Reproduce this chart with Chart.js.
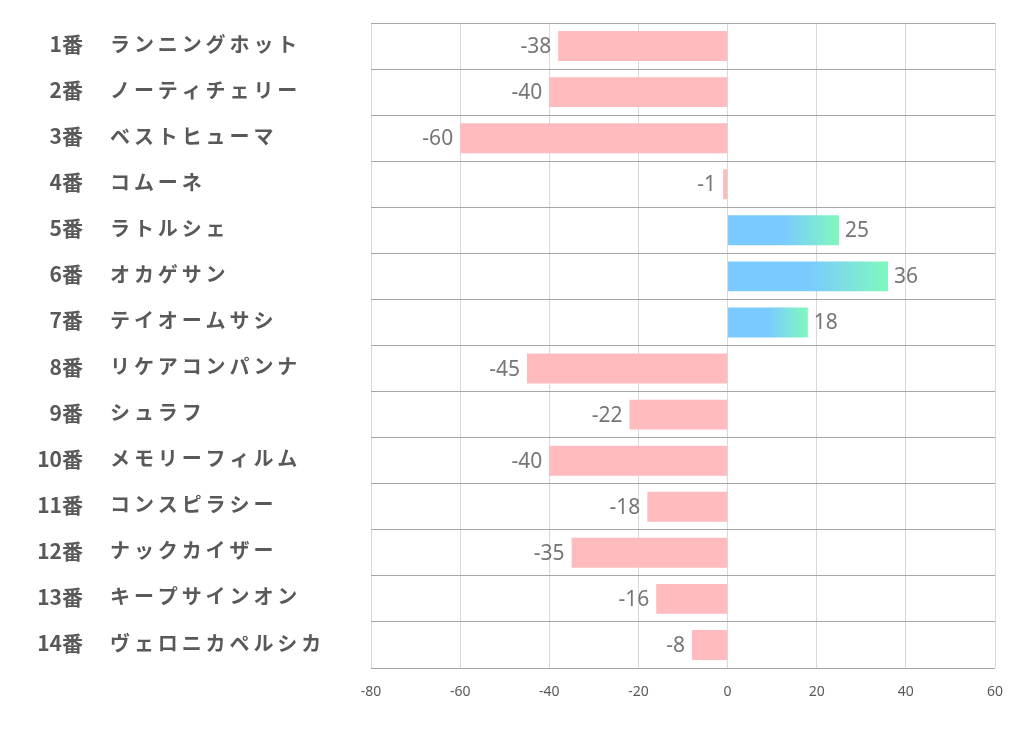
<!DOCTYPE html>
<html>
<head>
<meta charset="utf-8">
<script src="https://cdn.jsdelivr.net/npm/chart.js@4"></script>
<style>
html,body{margin:0;padding:0;background:#fff;}
#wrap{width:1022px;height:730px;position:relative;}
</style>
</head>
<body>
<div id="wrap"><canvas id="c" width="1022" height="730"></canvas></div>
<script>
const horseNumbers = ["1番","2番","3番","4番","5番","6番","7番","8番","9番","10番","11番","12番","13番","14番"];
const horseNames = ["ランニングホット","ノーティチェリー","ベストヒューマ","コムーネ","ラトルシェ","オカゲサン","テイオームサシ","リケアコンパンナ","シュラフ","メモリーフィルム","コンスピラシー","ナックカイザー","キープサインオン","ヴェロニカペルシカ"];
const values = [-38,-40,-60,-1,25,36,18,-45,-22,-40,-18,-35,-16,-8];
const xTicks = [-80,-60,-40,-20,0,20,40,60];

const PINK = 'rgb(255,187,189)';
const BLUE = 'rgb(122,202,255)';
const GREEN = 'rgb(128,248,190)';

function barColor(ctx){
  const v = ctx.raw;
  if (v < 0) return PINK;
  const chart = ctx.chart;
  if (!chart.chartArea) return BLUE;
  const xs = chart.scales.x;
  const x0 = xs.getPixelForValue(0);
  const x1 = xs.getPixelForValue(v);
  const g = chart.ctx.createLinearGradient(x0,0,x1,0);
  g.addColorStop(0,BLUE);
  g.addColorStop(0.5,BLUE);
  g.addColorStop(1,GREEN);
  return g;
}

const labelPlugin = {
  id:'labels',
  afterDraw(chart){
    const ctx = chart.ctx;
    const ys = chart.scales.y;
    ctx.save();
    ctx.fillStyle = '#595959';
    ctx.textBaseline = 'middle';
    horseNumbers.forEach((n,i)=>{
      const y = ys.getPixelForValue(i);
      ctx.font = 'bold 21px "Noto Sans CJK JP"';
      ctx.letterSpacing = '0px';
      ctx.textAlign = 'right';
      ctx.fillText(n, 83, y-2);
      ctx.font = 'bold 20px "Noto Sans CJK JP"';
      ctx.textAlign = 'left';
      ctx.letterSpacing = '3.9px';
      ctx.fillText(horseNames[i], 110, y-2);
    });
    ctx.letterSpacing = '0px';
    // data labels
    const meta = chart.getDatasetMeta(0);
    ctx.font = '21px "Noto Sans", "Open Sans", sans-serif';
    ctx.fillStyle = '#767676';
    meta.data.forEach((el,i)=>{
      const v = values[i];
      if (v < 0){
        ctx.textAlign='right';
        ctx.fillText(String(v), el.x-7, el.y+1);
      } else {
        ctx.textAlign='left';
        ctx.fillText(String(v), el.x+6, el.y+1);
      }
    });
    ctx.restore();
  }
};

new Chart(document.getElementById('c'),{
  type:'bar',
  data:{
    labels: horseNumbers,
    datasets:[{
      data: values,
      backgroundColor: barColor,
      borderWidth:0,
      categoryPercentage:1.0,
      barPercentage:0.65
    }]
  },
  options:{
    indexAxis:'y',
    responsive:false,
    animation:false,
    events:[],
    layout:{padding:{top:23,right:27,left:0,bottom:0}},
    plugins:{legend:{display:false},tooltip:{enabled:false}},
    scales:{
      x:{
        min:-80,max:60,
        afterBuildTicks(scale){ scale.ticks = xTicks.map(v=>({value:v})); },
        afterFit(scale){ scale.height = 62; },
        grid:{color:'#d9d9d9',lineWidth:1,drawTicks:false},
        border:{display:false},
        ticks:{color:'#595959',font:{size:14,family:'"Noto Sans", sans-serif'},padding:16,maxRotation:0}
      },
      y:{
        afterFit(scale){ scale.width = 371; },
        grid:{color:'#a6a6a6',lineWidth:1,drawTicks:false},
        border:{display:false},
        ticks:{display:false}
      }
    }
  },
  plugins:[labelPlugin]
});
</script>
</body>
</html>
